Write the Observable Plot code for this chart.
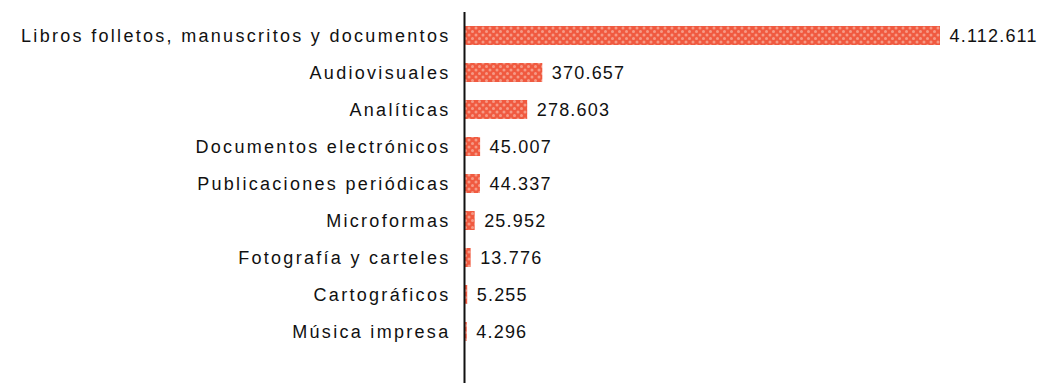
<!DOCTYPE html>
<html>
<head>
<meta charset="utf-8">
<script src="https://cdn.jsdelivr.net/npm/d3@7"></script>
<script src="https://cdn.jsdelivr.net/npm/@observablehq/plot@0.6"></script>
<style>
  html, body { margin: 0; padding: 0; background: #fff; }
  #chart svg { display: block; overflow: visible; }
</style>
</head>
<body>
<svg width="0" height="0" style="position:absolute">
  <defs>
    <pattern id="dots" width="7" height="7" patternUnits="userSpaceOnUse">
      <rect width="7" height="7" fill="#f05a40"></rect>
      <circle cx="3.5" cy="3.5" r="1.5" fill="#f69a86"></circle>
      <circle cx="0" cy="0" r="1.5" fill="#f69a86"></circle>
      <circle cx="7" cy="0" r="1.5" fill="#f69a86"></circle>
      <circle cx="0" cy="7" r="1.5" fill="#f69a86"></circle>
      <circle cx="7" cy="7" r="1.5" fill="#f69a86"></circle>
    </pattern>
  </defs>
</svg>
<div id="chart"></div>
<script>
const categories = [
  "Libros folletos, manuscritos y documentos",
  "Audiovisuales",
  "Analíticas",
  "Documentos electrónicos",
  "Publicaciones periódicas",
  "Microformas",
  "Fotografía y carteles",
  "Cartográficos",
  "Música impresa"
];
const values = [4112611, 370657, 278603, 45007, 44337, 25952, 13776, 5255, 4296];

const data = categories.map((name, i) => ({name, value: values[i]}));
const fmt = d3.formatLocale({decimal: ",", thousands: ".", grouping: [3], currency: ["", "€"]}).format(",d");

const chart = Plot.plot({
  width: 1039,
  height: 383,
  marginTop: 12,
  marginBottom: 0,
  marginLeft: 464,
  marginRight: 99,
  style: {fontFamily: "'Liberation Sans', Arial, sans-serif", background: "#fff"},
  x: {type: "pow", exponent: 0.75, domain: [0, d3.max(values)], axis: null},
  y: {domain: categories, range: [5, 362], padding: 0.5, axis: null},
  marks: [
    Plot.barX(data, {x: "value", y: "name", fill: "url(#dots)"}),
    Plot.text(data, {x: 0, y: "name", text: "name", textAnchor: "end", dx: -14, fontSize: 18, fill: "#111"}),
    Plot.text(data, {x: "value", y: "name", text: d => fmt(d.value), textAnchor: "start", dx: 9, fontSize: 18, fill: "#111"}),
    Plot.ruleX([0], {stroke: "#111", strokeWidth: 2})
  ]
});
document.getElementById("chart").appendChild(chart);

const textGroups = d3.select(chart).selectAll("g[aria-label='text']").nodes();
if (textGroups[0]) d3.select(textGroups[0]).selectAll("text").style("letter-spacing", "2.3px");
if (textGroups[1]) d3.select(textGroups[1]).selectAll("text").style("letter-spacing", "1.2px");
</script>
</body>
</html>
